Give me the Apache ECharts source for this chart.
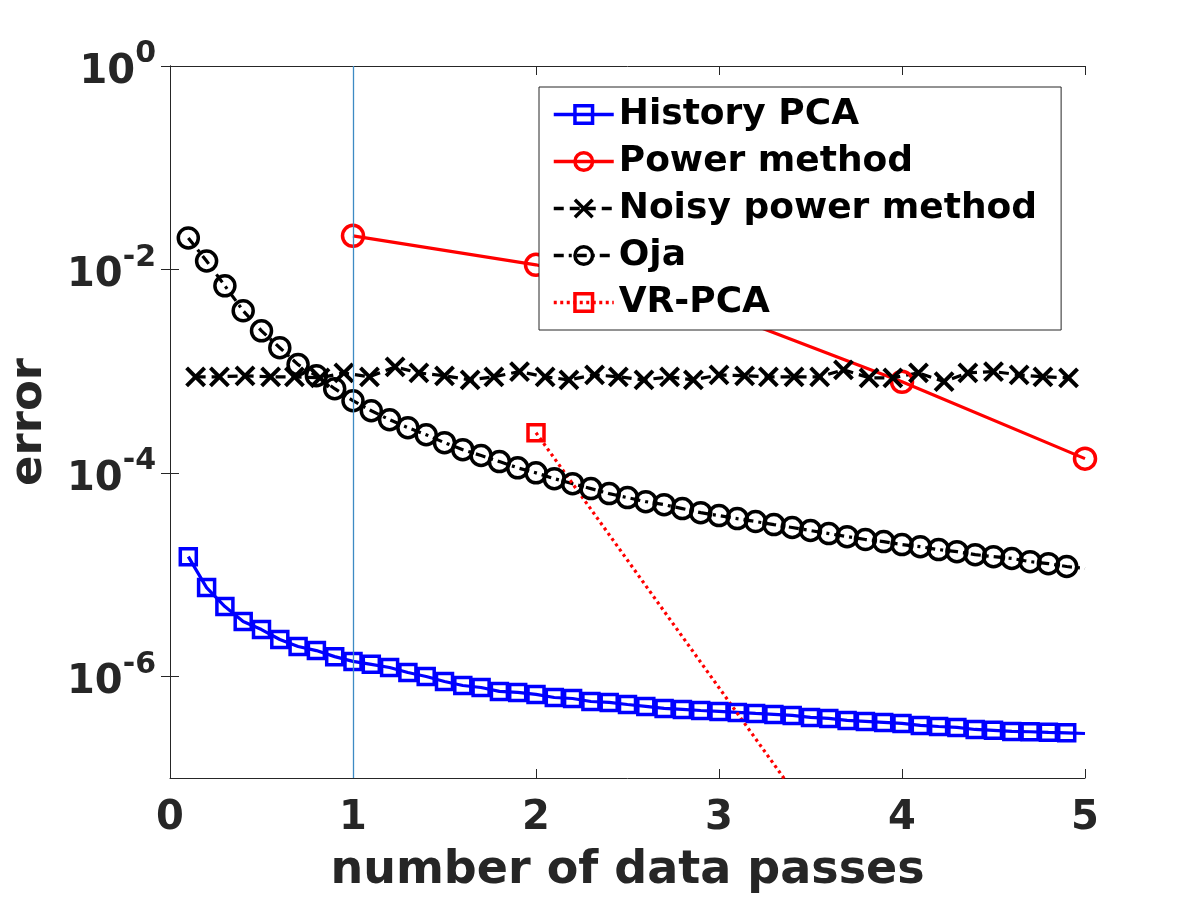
<!DOCTYPE html>
<html>
<head>
<meta charset="utf-8">
<script src="https://cdn.jsdelivr.net/npm/echarts@6/dist/echarts.min.js"></script>
<style>html,body{margin:0;padding:0;background:#fff}#c{width:1200px;height:900px}</style>
</head>
<body>
<div id="c"></div>
<script>
// ---- data ----
const passesFine = [0.1,0.2,0.3,0.4,0.5,0.6,0.7,0.8,0.9,1.0,1.1,1.2,1.3,1.4,1.5,1.6,1.7,1.8,1.9,2.0,2.1,2.2,2.3,2.4,2.5,2.6,2.7,2.8,2.9,3.0,3.1,3.2,3.3,3.4,3.5,3.6,3.7,3.8,3.9,4.0,4.1,4.2,4.3,4.4,4.5,4.6,4.7,4.8,4.9,5.0];
const historyPCA = [1.50e-5,7.45e-6,4.85e-6,3.45e-6,2.88e-6,2.30e-6,1.96e-6,1.79e-6,1.56e-6,1.40e-6,1.31e-6,1.22e-6,1.09e-6,9.95e-7,8.89e-7,8.12e-7,7.76e-7,7.10e-7,6.94e-7,6.63e-7,6.19e-7,6.05e-7,5.65e-7,5.53e-7,5.28e-7,5.05e-7,4.83e-7,4.72e-7,4.61e-7,4.51e-7,4.41e-7,4.31e-7,4.22e-7,4.12e-7,3.94e-7,3.85e-7,3.68e-7,3.60e-7,3.52e-7,3.44e-7,3.29e-7,3.21e-7,3.14e-7,3.00e-7,2.94e-7,2.87e-7,2.85e-7,2.81e-7,2.78e-7,2.74e-7];
const oja = [2.04e-2,1.21e-2,6.90e-3,3.92e-3,2.49e-3,1.70e-3,1.16e-3,9.02e-4,6.72e-4,5.12e-4,4.08e-4,3.33e-4,2.78e-4,2.37e-4,1.98e-4,1.69e-4,1.48e-4,1.29e-4,1.12e-4,1.00e-4,8.77e-5,7.83e-5,7.00e-5,6.25e-5,5.71e-5,5.21e-5,4.87e-5,4.45e-5,4.06e-5,3.80e-5,3.55e-5,3.32e-5,3.10e-5,2.90e-5,2.71e-5,2.53e-5,2.36e-5,2.21e-5,2.11e-5,1.97e-5,1.88e-5,1.76e-5,1.68e-5,1.57e-5,1.50e-5,1.44e-5,1.34e-5,1.28e-5,1.20e-5,1.15e-5];
const passesNoisy = [0.14,0.27,0.41,0.55,0.68,0.82,0.95,1.09,1.23,1.36,1.50,1.64,1.77,1.91,2.05,2.18,2.32,2.45,2.59,2.73,2.86,3.00,3.14,3.27,3.41,3.55,3.68,3.82,3.95,4.09,4.23,4.36,4.50,4.64,4.77,4.91];
const noisyPower = [8.8e-4,8.8e-4,9.0e-4,8.8e-4,8.8e-4,8.6e-4,9.6e-4,8.8e-4,1.10e-3,9.6e-4,9.0e-4,8.2e-4,8.8e-4,9.9e-4,8.8e-4,8.2e-4,9.2e-4,8.8e-4,8.2e-4,8.8e-4,8.2e-4,9.2e-4,9.0e-4,8.8e-4,8.8e-4,8.8e-4,1.03e-3,8.6e-4,8.6e-4,9.6e-4,7.9e-4,9.6e-4,9.9e-4,9.2e-4,8.8e-4,8.6e-4];
const passesPower = [1,2,3,4,5];
const powerMethod = [2.14e-2,1.11e-2,3.83e-3,7.87e-4,1.38e-4];
const passesVR = [2,4];
const vrPCA = [2.48e-4,2.4e-9];
const xTicks = [0,1,2,3,4,5];
const yTicks = [1e-6,1e-4,1e-2,1];
const refLineX = 1;
const seriesNames = ['History PCA','Power method','Noisy power method','Oja','VR-PCA'];

// ---- build ----
function pairs(xs, ys, hideLastSymbol) {
  return xs.map((x, i) => {
    const item = {value: [x, ys[i]]};
    if (hideLastSymbol && i === xs.length - 1) item.symbol = 'none';
    return item;
  });
}
const FONT = 'DejaVu Sans';
const TXT = '#262626';
const xMark = 'path://M0,0L20,20M20,0L0,20';

const chart = echarts.init(document.getElementById('c'), null, {renderer: 'canvas'});
const yLabel = {
  show: true,
  customValues: yTicks,
  margin: 14,
  formatter: function (v) {
    const e = Math.round(Math.log10(v));
    return '{h| }{b|10}{s|' + e + '}';
  },
  rich: {
    h: {fontSize: 1, lineHeight: 53, width: 0},
    b: {fontFamily: FONT, fontWeight: 'bold', fontSize: 40, color: TXT, lineHeight: 40, verticalAlign: 'bottom'},
    s: {fontFamily: FONT, fontWeight: 'bold', fontSize: 30, color: TXT, lineHeight: 30, verticalAlign: 'top'}
  }
};
const axisLine = {show: true, lineStyle: {color: TXT, width: 1}};
const tick = {show: true, inside: true, length: 9, lineStyle: {color: TXT, width: 1}};

chart.setOption({
  animation: false,
  backgroundColor: '#fff',
  grid: {left: 170, top: 66, width: 915, height: 712, containLabel: false, outerBoundsMode: 'none'},
  xAxis: [{
    type: 'value', min: 0, max: 5, interval: 1, position: 'bottom',
    axisLine: axisLine, axisTick: tick, splitLine: {show: false},
    axisLabel: {fontFamily: FONT, fontWeight: 'bold', fontSize: 40, color: TXT, margin: 21},
    name: 'number of data passes', nameLocation: 'middle', nameGap: 70,
    nameTextStyle: {fontFamily: FONT, fontWeight: 'bold', fontSize: 46, color: TXT}
  }, {
    type: 'value', min: 0, max: 5, interval: 1, position: 'top',
    axisLine: axisLine, axisTick: tick, splitLine: {show: false}, axisLabel: {show: false}
  }],
  yAxis: [{
    type: 'log', logBase: 10, min: 1e-7, max: 1, position: 'left',
    axisLine: axisLine, axisTick: Object.assign({customValues: yTicks}, tick), splitLine: {show: false}, minorTick: {show: false},
    axisLabel: yLabel,
    name: 'error', nameLocation: 'middle', nameGap: 118, nameRotate: 90,
    nameTextStyle: {fontFamily: FONT, fontWeight: 'bold', fontSize: 45, color: TXT}
  }, {
    type: 'log', logBase: 10, min: 1e-7, max: 1, position: 'right',
    axisLine: axisLine, axisTick: Object.assign({customValues: yTicks}, tick), splitLine: {show: false},
    axisLabel: {show: false}
  }],
  legend: {
    data: seriesNames, orient: 'vertical', left: 539, top: 87,
    padding: [4, 24, 4, 13], itemWidth: 60, itemHeight: 22, itemGap: 0, itemTextGap: 8,
    backgroundColor: '#fff', borderColor: TXT, borderWidth: 1,
    lineStyle: {width: 3.5},
    itemStyle: {borderWidth: 3.5},
    textStyle: {fontFamily: FONT, fontWeight: 'bold', fontSize: 36, color: '#000', lineHeight: 47}
  },
  series: [{
    name: seriesNames[0], type: 'line', data: pairs(passesFine, historyPCA, true),
    symbol: 'rect', symbolSize: 16, clip: true,
    lineStyle: {color: '#0000ff', width: 3.2},
    itemStyle: {color: 'rgba(0,0,0,0)', borderColor: '#0000ff', borderWidth: 3.5},
    markLine: {
      silent: true, symbol: ['none', 'none'], label: {show: false},
      lineStyle: {color: '#3d8ac4', width: 1.3, type: 'solid', opacity: 1},
      itemStyle: {color: '#3d8ac4'},
      data: [{xAxis: refLineX, lineStyle: {color: '#3d8ac4'}}]
    }
  }, {
    name: seriesNames[1], type: 'line', data: pairs(passesPower, powerMethod, false),
    symbol: 'circle', symbolSize: 21, clip: true,
    lineStyle: {color: '#ff0000', width: 3.2},
    itemStyle: {color: 'rgba(0,0,0,0)', borderColor: '#ff0000', borderWidth: 3.5}
  }, {
    name: seriesNames[2], type: 'line', data: pairs(passesNoisy, noisyPower, false),
    symbol: xMark, symbolSize: 18, clip: true,
    lineStyle: {color: '#000', width: 3.2, type: [10, 6]},
    itemStyle: {color: 'rgba(0,0,0,0)', borderColor: '#000', borderWidth: 4}
  }, {
    name: seriesNames[3], type: 'line', data: pairs(passesFine, oja, true),
    symbol: 'circle', symbolSize: 20, clip: true,
    lineStyle: {color: '#000', width: 3.2, type: [10, 5, 3, 5]},
    itemStyle: {color: 'rgba(0,0,0,0)', borderColor: '#000', borderWidth: 3.5}
  }, {
    name: seriesNames[4], type: 'line', data: pairs(passesVR, vrPCA, false),
    symbol: 'rect', symbolSize: 16, clip: true,
    lineStyle: {color: '#ff0000', width: 3.2, type: [3, 3.5]},
    itemStyle: {color: 'rgba(0,0,0,0)', borderColor: '#ff0000', borderWidth: 3.5}
  }]
});
</script>
</body>
</html>
